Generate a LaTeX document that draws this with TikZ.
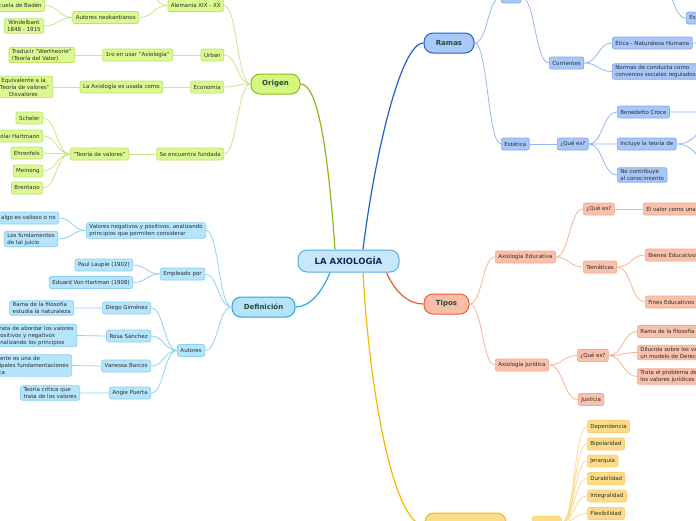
\documentclass[tikz,border=0pt]{standalone}
\usepackage{fontspec}
\setmainfont{DejaVu Sans}
\usetikzlibrary{calc}
\definecolor{cfill}{HTML}{C6E8FA}\definecolor{cdraw}{HTML}{5AAEE3}\definecolor{ctext}{HTML}{102A5C}
\definecolor{maintext}{HTML}{1F4A3A}\definecolor{leaftext}{HTML}{2C2C2C}
\definecolor{ogfill}{HTML}{D5F77E}\definecolor{ogdraw}{HTML}{86C11A}\definecolor{ogline}{HTML}{84BE14}
\definecolor{glfill}{HTML}{DBF990}\definecolor{gldraw}{HTML}{BCE36B}\definecolor{glline}{HTML}{C8E68F}
\definecolor{dmfill}{HTML}{B5E3F9}\definecolor{dmdraw}{HTML}{25A5E5}\definecolor{dmline}{HTML}{2AA9E8}
\definecolor{dlfill}{HTML}{B6E4FB}\definecolor{dldraw}{HTML}{8DCFF2}\definecolor{dlline}{HTML}{90D2F4}
\definecolor{rmfill}{HTML}{A9C9F9}\definecolor{rmdraw}{HTML}{1E62D8}\definecolor{rmline}{HTML}{1E5FD8}
\definecolor{rlfill}{HTML}{A8C6F8}\definecolor{rldraw}{HTML}{80AAF0}\definecolor{rlline}{HTML}{95B9F3}
\definecolor{tmfill}{HTML}{F9BEA9}\definecolor{tmdraw}{HTML}{F25C2C}\definecolor{tmline}{HTML}{F25A28}
\definecolor{tlfill}{HTML}{F9C0AB}\definecolor{tldraw}{HTML}{F7A88C}\definecolor{tlline}{HTML}{F8B39A}
\definecolor{ymfill}{HTML}{FEDC8C}\definecolor{ymdraw}{HTML}{F8B80A}\definecolor{ymline}{HTML}{F9B800}
\definecolor{ylfill}{HTML}{FDDB88}\definecolor{yldraw}{HTML}{FACF70}\definecolor{ylline}{HTML}{FCDA90}
\tikzset{
  leaf/.style={draw, rounded corners=2pt, line width=0.7pt, inner xsep=3pt, inner ysep=1.6pt,
    minimum height=12pt, font=\fontsize{5.5}{7}\selectfont, text=leaftext, align=left},
  gl/.style={leaf, fill=glfill, draw=gldraw},
  dl/.style={leaf, fill=dlfill, draw=dldraw},
  rl/.style={leaf, fill=rlfill, draw=rldraw},
  tl/.style={leaf, fill=tlfill, draw=tldraw},
  yl/.style={leaf, fill=ylfill, draw=yldraw},
  mainb/.style={draw, rounded corners=9pt, line width=1pt, minimum height=20pt, inner sep=2pt,
    font=\bfseries\fontsize{7}{8}\selectfont, text=maintext},
  hc/.style={to path={let \p1=(\tikztostart), \p2=(\tikztotarget) in
    .. controls ({0.5*\x1+0.5*\x2},\y1) and ({0.5*\x1+0.5*\x2},\y2) .. (\tikztotarget)}},
  ge/.style={draw=glline, line width=0.8pt, hc},
  de/.style={draw=dlline, line width=0.8pt, hc},
  re/.style={draw=rlline, line width=0.8pt, hc},
  te/.style={draw=tlline, line width=0.8pt, hc},
  ye/.style={draw=ylline, line width=0.8pt, hc},
}
\begin{document}
\begin{tikzpicture}[x=1pt,y=1pt]
\fill[white] (0,0) rectangle (696,-520);
\useasboundingbox (0,0) rectangle (696,-520);

% central
\node[draw=cdraw, fill=cfill, line width=1pt, rounded corners=9pt, minimum width=101pt,
  minimum height=22pt, font=\bfseries\fontsize{8.5}{10}\selectfont, text=ctext] (central) at (348.5,-261) {LA AXIOLOGÍA};

% main branches
\node[mainb, fill=ogfill, draw=ogdraw, minimum width=49pt] (origen) at (275.5,-84) {Origen};
\node[mainb, fill=dmfill, draw=dmdraw, minimum width=63pt] (defin) at (263.5,-307) {Definición};
\node[mainb, fill=rmfill, draw=rmdraw, minimum width=50pt] (ramas) at (449,-43) {Ramas};
\node[mainb, fill=tmfill, draw=tmdraw, minimum width=45pt] (tipos) at (446.5,-304) {Tipos};
\node[mainb, fill=ymfill, draw=ymdraw, minimum width=81pt, minimum height=25pt] (carac) at (465.5,-525.5) {Características};

\draw[ogline, line width=1.2pt] ([xshift=-13.5pt]central.north) .. controls (328,-150) and (318,-84) .. (origen.east);
\draw[rmline, line width=1.2pt] ([xshift=14.5pt]central.north) .. controls (374,-160) and (400,-43) .. (ramas.west);
\draw[dmline, line width=1.2pt] ([xshift=-18.5pt]central.south) .. controls (322,-292) and (310,-307) .. (defin.east);
\draw[tmline, line width=1.2pt] ([xshift=38pt]central.south) .. controls (395,-292) and (408,-304) .. (tipos.west);
\draw[ymline, line width=1.2pt] ([xshift=14.5pt]central.south) .. controls (370,-400) and (395,-525.5) .. (carac.west);

% ---------- Origen ----------
\node[gl, anchor=east] (alem) at (224,-5.5) {Alemania XIX - XX};
\node[gl, anchor=east] (urban) at (224,-55) {Urban};
\node[gl, anchor=east] (econ) at (224,-87) {Economía};
\node[gl, anchor=east] (funda) at (224,-154) {Se encuentra fundada};
\node[gl, anchor=east] (neok) at (139,-17.5) {Autores neokantianos};
\node[gl, anchor=east] (primero) at (173,-55) {1ro en usar "Axiología"};
\node[gl, anchor=east] (usada) at (163,-87) {La Axiología es usada como};
\node[gl, anchor=east] (teoria) at (129,-154) {"Teoría de valores"};
\node[gl, anchor=east] (baden) at (45,-5.5) {Escuela de Badén};
\node[gl, anchor=east, align=center] (windel) at (44,-26) {Windelbant\\1848 - 1915};
\node[gl, anchor=east] (traducir) at (75,-55) {Traducir "Wertheorie"\\(Teoría del Valor)};
\node[gl, anchor=east, align=center] (equiv) at (53,-87) {Equivalente a la\\"Teoría de valores"\\Disvalores};
\node[gl, anchor=east] (scheler) at (43,-118) {Scheler};
\node[gl, anchor=east] (hartmann) at (43,-136) {Nicolai Hartmann};
\node[gl, anchor=east] (ehren) at (43,-153) {Ehrenfels};
\node[gl, anchor=east] (meinong) at (43,-171) {Meinong};
\node[gl, anchor=east] (brentano) at (43,-188) {Brentano};
\coordinate (alemup) at (140,14);

\draw[ge] (origen.west) to (alem.east) (origen.west) to (urban.east)
  (origen.west) to (econ.east) (origen.west) to (funda.east);
\draw[ge] (alem.west) to (neok.east) (alem.west) to (alemup);
\draw[ge] (neok.west) to (baden.east) (neok.west) to (windel.east);
\draw[ge] (urban.west) to (primero.east) (primero.west) to (traducir.east);
\draw[ge] (econ.west) to (usada.east) (usada.west) to (equiv.east);
\draw[ge] (funda.west) to (teoria.east);
\draw[ge] (teoria.west) to (scheler.east) (teoria.west) to (hartmann.east)
  (teoria.west) to (ehren.east) (teoria.west) to (meinong.east) (teoria.west) to (brentano.east);

% ---------- Definicion ----------
\node[dl, anchor=east] (valores) at (206,-230.5) {Valores negativos y positivos, analizando\\principios que permiten considerar};
\node[dl, anchor=east] (empleado) at (205,-274) {Empleado por};
\node[dl, anchor=east] (autores) at (205,-350.5) {Autores};
\node[dl, anchor=east] (algo) at (59,-218) {algo es valioso o no};
\node[dl, anchor=east] (fundam) at (58,-239) {Los fundamentos\\de tal juicio};
\node[dl, anchor=east] (paul) at (133,-265) {Paul Laupie (1902)};
\node[dl, anchor=east] (eduard) at (133,-282.5) {Eduard Von Hartman (1908)};
\node[dl, anchor=east] (diego) at (151,-308) {Diego Giménez};
\node[dl, anchor=east] (rosa) at (151,-336) {Rosa Sánchez};
\node[dl, anchor=east] (vanessa) at (151,-366) {Vanessa Barcos};
\node[dl, anchor=east] (angie) at (151,-393) {Angie Puerta};
\node[dl, anchor=east] (ramafil) at (74,-308) {Rama de la filosofía\\estudia la naturaleza};
\node[dl, anchor=east] (trata) at (77,-335.5) {Trata de abordar los valores\\positivos y negativos\\analizando los principios};
\node[dl, anchor=east] (actual) at (72,-365.5) {Actualmente es una de\\las principales fundamentaciones\\de la ética};
\node[dl, anchor=east] (critica) at (80,-393) {Teoría crítica que\\trata de los valores};

\draw[de] (defin.west) to (valores.east) (defin.west) to (empleado.east) (defin.west) to (autores.east);
\draw[de] (valores.west) to (algo.east) (valores.west) to (fundam.east);
\draw[de] (empleado.west) to (paul.east) (empleado.west) to (eduard.east);
\draw[de] (autores.west) to (diego.east) (autores.west) to (rosa.east)
  (autores.west) to (vanessa.east) (autores.west) to (angie.east);
\draw[de] (diego.west) to (ramafil.east) (rosa.west) to (trata.east)
  (vanessa.west) to (actual.east) (angie.west) to (critica.east);

% ---------- Ramas ----------
\node[rl, anchor=west] (etica) at (501,3) {Ética};
\node[rl, anchor=west] (corrientes) at (549,-63) {Corrientes};
\node[rl, anchor=west] (estetica) at (501,-144) {Estética};
\node[rl, anchor=west] (eticanat) at (612,-43) {Ética - Naturaleza Humana};
\node[rl, anchor=west] (normas) at (612,-71.5) {Normas de conducta como\\convenios sociales regulados};
\node[rl, anchor=west] (quees1) at (557,-144) {¿Qué es?};
\node[rl, anchor=west] (croce) at (617,-112) {Benedetto Croce};
\node[rl, anchor=west] (incluye) at (617,-144) {Incluye la teoría de};
\node[rl, anchor=west] (nocontr) at (617,-175) {No contribuye\\al conocimiento};
\node[rl, anchor=west, text width=24pt] (esbox) at (686,-18) {Es};
\coordinate (esparent) at (655,30);
\coordinate (eticaout) at (720,-43);
\coordinate (croceout) at (720,-112);
\coordinate (inclA) at (720,-122);
\coordinate (inclB) at (720,-168);

\draw[re] (ramas.east) to (etica.west) (ramas.east) to (estetica.west);
\draw[re] (etica.east) to (corrientes.west);
\draw[re] (corrientes.east) to (eticanat.west) (corrientes.east) to (normas.west);
\draw[re] (estetica.east) to (quees1.west);
\draw[re] (quees1.east) to (croce.west) (quees1.east) to (incluye.west) (quees1.east) to (nocontr.west);
\draw[re] (esparent) to (esbox.west);
\draw[re] (eticanat.east) to (eticaout) (croce.east) to (croceout)
  (incluye.east) to (inclA) (incluye.east) to (inclB);

% ---------- Tipos ----------
\node[tl, anchor=west] (educ) at (495,-257) {Axiología Educativa};
\node[tl, anchor=west] (jur) at (495,-365) {Axiología Jurídica};
\node[tl, anchor=west] (quees2) at (583,-209) {¿Qué es?};
\node[tl, anchor=west] (tematicas) at (583,-267) {Temáticas};
\node[tl, anchor=west] (valor) at (643,-209) {El valor como una};
\node[tl, anchor=west] (bienes) at (645,-255) {Bienes Educativos};
\node[tl, anchor=west] (fines) at (645,-302) {Fines Educativos};
\node[tl, anchor=west] (quees3) at (577,-355.5) {¿Qué es?};
\node[tl, anchor=west] (justicia) at (578,-399.5) {Justicia};
\node[tl, anchor=west] (ramaj) at (637,-331.5) {Rama de la filosofía};
\node[tl, anchor=west] (dilucida) at (637,-352.5) {Dilucida sobre los valores de\\un modelo de Derecho};
\node[tl, anchor=west] (tratap) at (637,-376.5) {Trata el problema de\\los valores jurídicos};

\draw[te] (tipos.east) to (educ.west) (tipos.east) to (jur.west);
\draw[te] (educ.east) to (quees2.west) (educ.east) to (tematicas.west);
\draw[te] (quees2.east) to (valor.west);
\draw[te] (tematicas.east) to (bienes.west) (tematicas.east) to (fines.west);
\draw[te] (jur.east) to (quees3.west) (jur.east) to (justicia.west);
\draw[te] (quees3.east) to (ramaj.west) (quees3.east) to (dilucida.west) (quees3.east) to (tratap.west);

% ---------- Caracteristicas ----------
\node[yl, anchor=west, minimum width=29pt] (son) at (532,-522.5) {};
\node[yl, anchor=west] (dep) at (587,-426.5) {Dependencia};
\node[yl, anchor=west] (bip) at (587,-444) {Bipolaridad};
\node[yl, anchor=west] (jer) at (587,-461) {Jerarquía};
\node[yl, anchor=west] (dur) at (587,-478.5) {Durabilidad};
\node[yl, anchor=west] (integ) at (587,-496) {Integralidad};
\node[yl, anchor=west] (flex) at (587,-513.5) {Flexibilidad};

\draw[ye] (carac.east) to (son.west);
\draw[ye] (son.east) to (dep.west) (son.east) to (bip.west) (son.east) to (jer.west)
  (son.east) to (dur.west) (son.east) to (integ.west) (son.east) to (flex.west);
\end{tikzpicture}
\end{document}
